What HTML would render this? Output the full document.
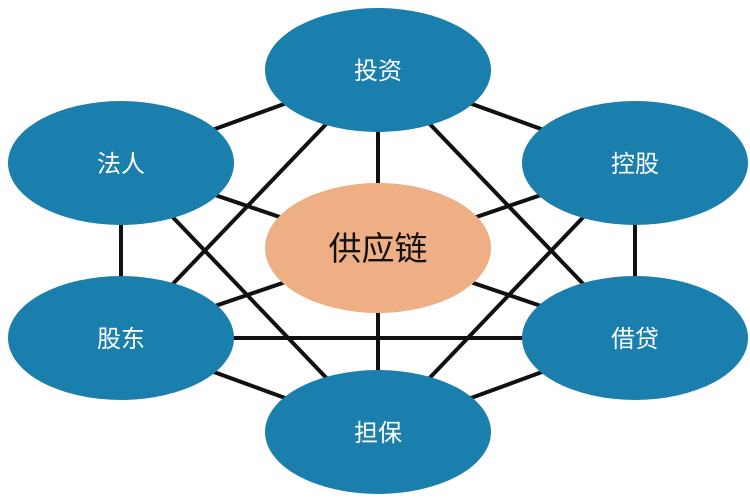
<!DOCTYPE html>
<html><head><meta charset="utf-8"><style>body{margin:0;background:#fff}svg{display:block}</style></head><body>
<svg width="750" height="500" xmlns="http://www.w3.org/2000/svg">
<g stroke="#111" stroke-width="4">
<line x1="378" y1="70" x2="121" y2="163"/><line x1="378" y1="70" x2="635" y2="163"/>
<line x1="378" y1="70" x2="121" y2="338"/><line x1="378" y1="70" x2="635" y2="338"/>
<line x1="378" y1="70" x2="378" y2="432"/>
<line x1="121" y1="163" x2="121" y2="338"/>
<line x1="121" y1="163" x2="635" y2="338"/><line x1="121" y1="163" x2="378" y2="432"/>
<line x1="635" y1="163" x2="121" y2="338"/><line x1="635" y1="163" x2="635" y2="338"/>
<line x1="635" y1="163" x2="378" y2="432"/>
<line x1="121" y1="338" x2="635" y2="338"/><line x1="121" y1="338" x2="378" y2="432"/>
<line x1="635" y1="338" x2="378" y2="432"/>
</g>
<g fill="#1a7fad">
<ellipse cx="378" cy="70" rx="113" ry="62"/>
<ellipse cx="121" cy="163" rx="113" ry="62"/>
<ellipse cx="635" cy="163" rx="113" ry="62"/>
<ellipse cx="121" cy="338" rx="113" ry="62"/>
<ellipse cx="635" cy="338" rx="113" ry="62"/>
<ellipse cx="378" cy="432" rx="113" ry="62"/>
</g>
<ellipse cx="378" cy="248" rx="113" ry="65" fill="#efaf85"/>
<g font-family="Liberation Sans, Noto Sans CJK SC, sans-serif" font-size="24" fill="#fff" text-anchor="middle">
<text x="378" y="79">投资</text>
<text x="121" y="172">法人</text>
<text x="635" y="172">控股</text>
<text x="121" y="347">股东</text>
<text x="635" y="347">借贷</text>
<text x="378" y="441">担保</text>
</g>
<text x="378" y="260" font-family="Liberation Sans, Noto Sans CJK SC, sans-serif" font-size="33" fill="#111" text-anchor="middle">供应链</text>
</svg>
</body></html>
